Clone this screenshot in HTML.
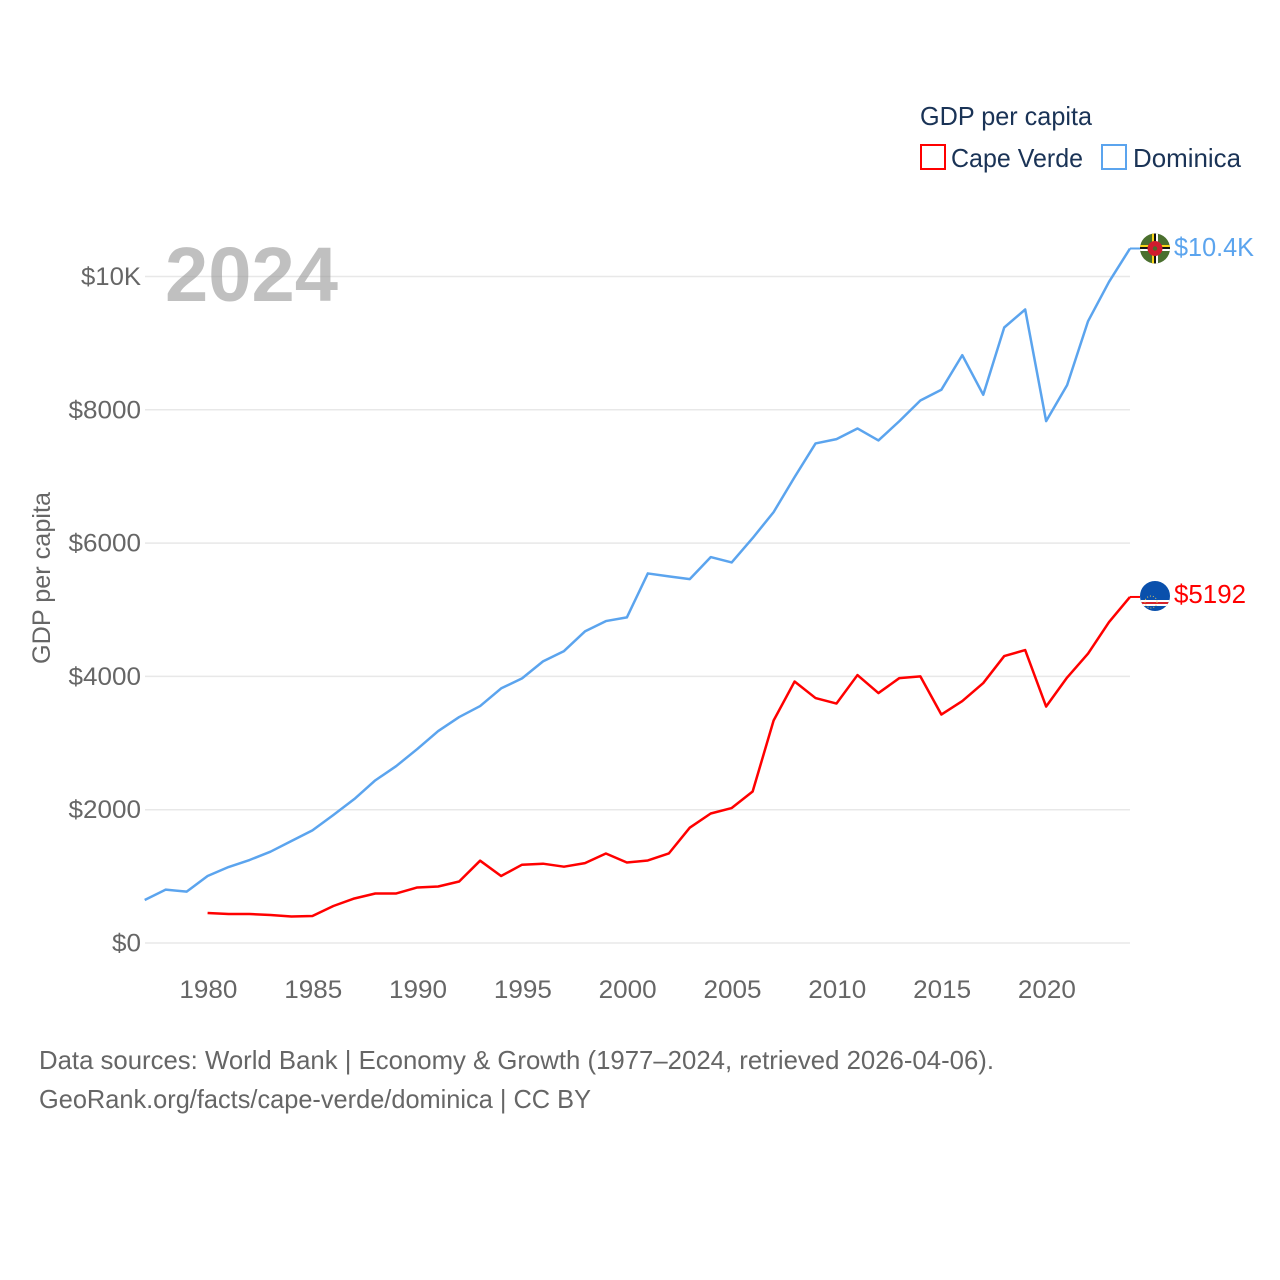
<!DOCTYPE html>
<html lang="en">
<head>
<meta charset="utf-8">
<title>GDP per capita: Cape Verde and Dominica</title>
<style>
html,body{margin:0;padding:0;background:#fff;}
svg{display:block;}
text{font-family:"Liberation Sans",sans-serif;}
</style>
</head>
<body>
<svg id="chart" xmlns="http://www.w3.org/2000/svg" width="1280" height="1280" viewBox="0 0 1280 1280">
  <defs>
    <clipPath id="flag-clip-dm"><circle cx="1155" cy="248.5" r="15"/></clipPath>
    <clipPath id="flag-clip-cv"><circle cx="1155" cy="596" r="15"/></clipPath>
  </defs>
  <rect width="1280" height="1280" fill="#fff"/>
  <g id="grid"></g>
  <text x="165" y="301" font-size="77" font-weight="700" fill="#999" fill-opacity="0.62" textLength="173" lengthAdjust="spacingAndGlyphs">2024</text>
  <g id="yticks"></g>
  <g id="xticks"></g>
  <text transform="translate(50,664) rotate(-90)" font-size="25" fill="#666" textLength="172" lengthAdjust="spacingAndGlyphs">GDP per capita</text>
  <g id="series"></g>

  <g clip-path="url(#flag-clip-dm)">
    <rect x="1140" y="233" width="30" height="31" fill="#4a6f2e"/>
    <rect x="1152" y="233" width="2" height="31" fill="#f7d417"/>
    <rect x="1154" y="233" width="2" height="31" fill="#111"/>
    <rect x="1156" y="233" width="2" height="31" fill="#fff"/>
    <rect x="1140" y="245" width="30" height="2" fill="#f7d417"/>
    <rect x="1140" y="247" width="30" height="2" fill="#111"/>
    <rect x="1140" y="249" width="30" height="2" fill="#fff"/>
    <circle cx="1155" cy="248.5" r="7.5" fill="#d01c2e"/>
    <circle cx="1155" cy="248.5" r="2.2" fill="#4a6b2a"/>
  </g>
  <g clip-path="url(#flag-clip-cv)">
    <rect x="1140" y="581" width="30" height="31" fill="#0a50ac"/>
    <rect x="1140" y="600" width="30" height="6" fill="#fff"/>
    <rect x="1140" y="602" width="30" height="2" fill="#d8232a"/>
    <circle cx="1151" cy="602" r="6" fill="none" stroke="#e5c65a" stroke-width="1" stroke-dasharray="1 2"/>
  </g>

  <text x="1174" y="256" font-size="26" fill="#5ba4ee" textLength="80" lengthAdjust="spacingAndGlyphs">$10.4K</text>
  <text x="1174" y="603" font-size="26" fill="#ff0000" textLength="72" lengthAdjust="spacingAndGlyphs">$5192</text>

  <g>
    <text x="920" y="125" font-size="26" fill="#1a3356" textLength="172" lengthAdjust="spacingAndGlyphs">GDP per capita</text>
    <rect x="921" y="145" width="24" height="24" fill="#fff" stroke="#ff0000" stroke-width="2"/>
    <text x="951" y="167" font-size="26" fill="#1a3356" textLength="132" lengthAdjust="spacingAndGlyphs">Cape Verde</text>
    <rect x="1102" y="145" width="24" height="24" fill="#fff" stroke="#5ba4ee" stroke-width="2"/>
    <text x="1133" y="167" font-size="26" fill="#1a3356" textLength="108" lengthAdjust="spacingAndGlyphs">Dominica</text>
  </g>

  <text x="39" y="1069" font-size="26" fill="#666" textLength="955" lengthAdjust="spacingAndGlyphs">Data sources: World Bank | Economy &amp; Growth (1977–2024, retrieved 2026-04-06).</text>
  <text x="39" y="1108" font-size="26" fill="#666" textLength="552" lengthAdjust="spacingAndGlyphs">GeoRank.org/facts/cape-verde/dominica | CC BY</text>
</svg>
<script>
const years = [1977,1978,1979,1980,1981,1982,1983,1984,1985,1986,1987,1988,1989,1990,1991,1992,1993,1994,1995,1996,1997,1998,1999,2000,2001,2002,2003,2004,2005,2006,2007,2008,2009,2010,2011,2012,2013,2014,2015,2016,2017,2018,2019,2020,2021,2022,2023,2024];
const dominicaValues = [645,800,770,1005,1140,1245,1370,1530,1690,1920,2160,2440,2655,2910,3180,3390,3555,3820,3970,4225,4380,4675,4830,4885,5545,5500,5460,5790,5710,6075,6465,6990,7495,7560,7720,7540,7830,8140,8300,8820,8225,9235,9505,7830,8370,9330,9920,10420];
const capeVerdeValues = [null,null,null,450,435,435,420,398,405,555,668,743,743,833,848,923,1235,1005,1175,1190,1145,1198,1343,1208,1238,1343,1730,1943,2025,2273,3338,3923,3675,3593,4020,3750,3975,4000,3428,3630,3900,4305,4395,3548,3983,4343,4815,5192];
const yTickValues = [0,2000,4000,6000,8000,10000];
const yTickLabels = ["$0","$2000","$4000","$6000","$8000","$10K"];
const xTickValues = [1980,1985,1990,1995,2000,2005,2010,2015,2020];

const SVG_NS = "http://www.w3.org/2000/svg";
function xScale(year){ return 144.7 + (year - 1977) * (1130 - 144.7) / (2024 - 1977); }
function yScale(value){ return 943 - value * (943 - 276.5) / 10000; }

const gridGroup = document.getElementById("grid");
const yGroup = document.getElementById("yticks");
const xGroup = document.getElementById("xticks");
const seriesGroup = document.getElementById("series");

yTickValues.forEach(function(v, i){
  const line = document.createElementNS(SVG_NS, "line");
  
  
  line.setAttribute("x1", 145);
  line.setAttribute("x2", 1130);
  line.setAttribute("y1", yScale(v));
  line.setAttribute("y2", yScale(v));
  line.setAttribute("stroke", "#e8e8e8");
  line.setAttribute("stroke-width", "1.5");
  gridGroup.appendChild(line);

  const label = document.createElementNS(SVG_NS, "text");
  
  
  label.setAttribute("x", 141);
  label.setAttribute("y", yScale(v) + 8.5);
  label.setAttribute("text-anchor", "end");
  label.setAttribute("font-size", "25");
  label.setAttribute("fill", "#666");
  label.setAttribute("textLength", yTickLabels[i].length * 14.5 + (yTickLabels[i].length === 4 ? 2 : 0));
  label.setAttribute("lengthAdjust", "spacingAndGlyphs");
  label.textContent = yTickLabels[i];
  yGroup.appendChild(label);
});

xTickValues.forEach(function(year){
  const label = document.createElementNS(SVG_NS, "text");
  
  
  label.setAttribute("x", xScale(year) + 0.8);
  label.setAttribute("y", 998);
  label.setAttribute("text-anchor", "middle");
  label.setAttribute("font-size", "25");
  label.setAttribute("fill", "#666");
  label.setAttribute("textLength", "58");
  label.setAttribute("lengthAdjust", "spacingAndGlyphs");
  label.textContent = year;
  xGroup.appendChild(label);
});

function linePath(values){
  let d = "";
  values.forEach(function(v, i){
    if (v === null) return;
    d += (d === "" ? "M" : "L") + xScale(years[i]).toFixed(2) + " " + yScale(v).toFixed(2);
  });
  return d;
}

const dominicaLine = document.createElementNS(SVG_NS, "path");


dominicaLine.setAttribute("d", linePath(dominicaValues));
dominicaLine.setAttribute("fill", "none");
dominicaLine.setAttribute("stroke", "#5ba4ee");
dominicaLine.setAttribute("stroke-width", "2.5");
dominicaLine.setAttribute("stroke-linejoin", "round");
seriesGroup.appendChild(dominicaLine);

const capeVerdeLine = document.createElementNS(SVG_NS, "path");


capeVerdeLine.setAttribute("d", linePath(capeVerdeValues));
capeVerdeLine.setAttribute("fill", "none");
capeVerdeLine.setAttribute("stroke", "#ff0000");
capeVerdeLine.setAttribute("stroke-width", "2.5");
capeVerdeLine.setAttribute("stroke-linejoin", "round");
seriesGroup.appendChild(capeVerdeLine);

const dominicaConnector = document.createElementNS(SVG_NS, "line");


dominicaConnector.setAttribute("x1", xScale(2024));
dominicaConnector.setAttribute("x2", xScale(2024) + 10);
dominicaConnector.setAttribute("y1", yScale(dominicaValues[dominicaValues.length - 1]));
dominicaConnector.setAttribute("y2", yScale(dominicaValues[dominicaValues.length - 1]));
dominicaConnector.setAttribute("stroke", "#5ba4ee");
dominicaConnector.setAttribute("stroke-width", "2");
seriesGroup.appendChild(dominicaConnector);

const capeVerdeConnector = document.createElementNS(SVG_NS, "line");


capeVerdeConnector.setAttribute("x1", xScale(2024));
capeVerdeConnector.setAttribute("x2", xScale(2024) + 10);
capeVerdeConnector.setAttribute("y1", yScale(capeVerdeValues[capeVerdeValues.length - 1]));
capeVerdeConnector.setAttribute("y2", yScale(capeVerdeValues[capeVerdeValues.length - 1]));
capeVerdeConnector.setAttribute("stroke", "#ff0000");
capeVerdeConnector.setAttribute("stroke-width", "2");
seriesGroup.appendChild(capeVerdeConnector);
</script>
</body>
</html>
